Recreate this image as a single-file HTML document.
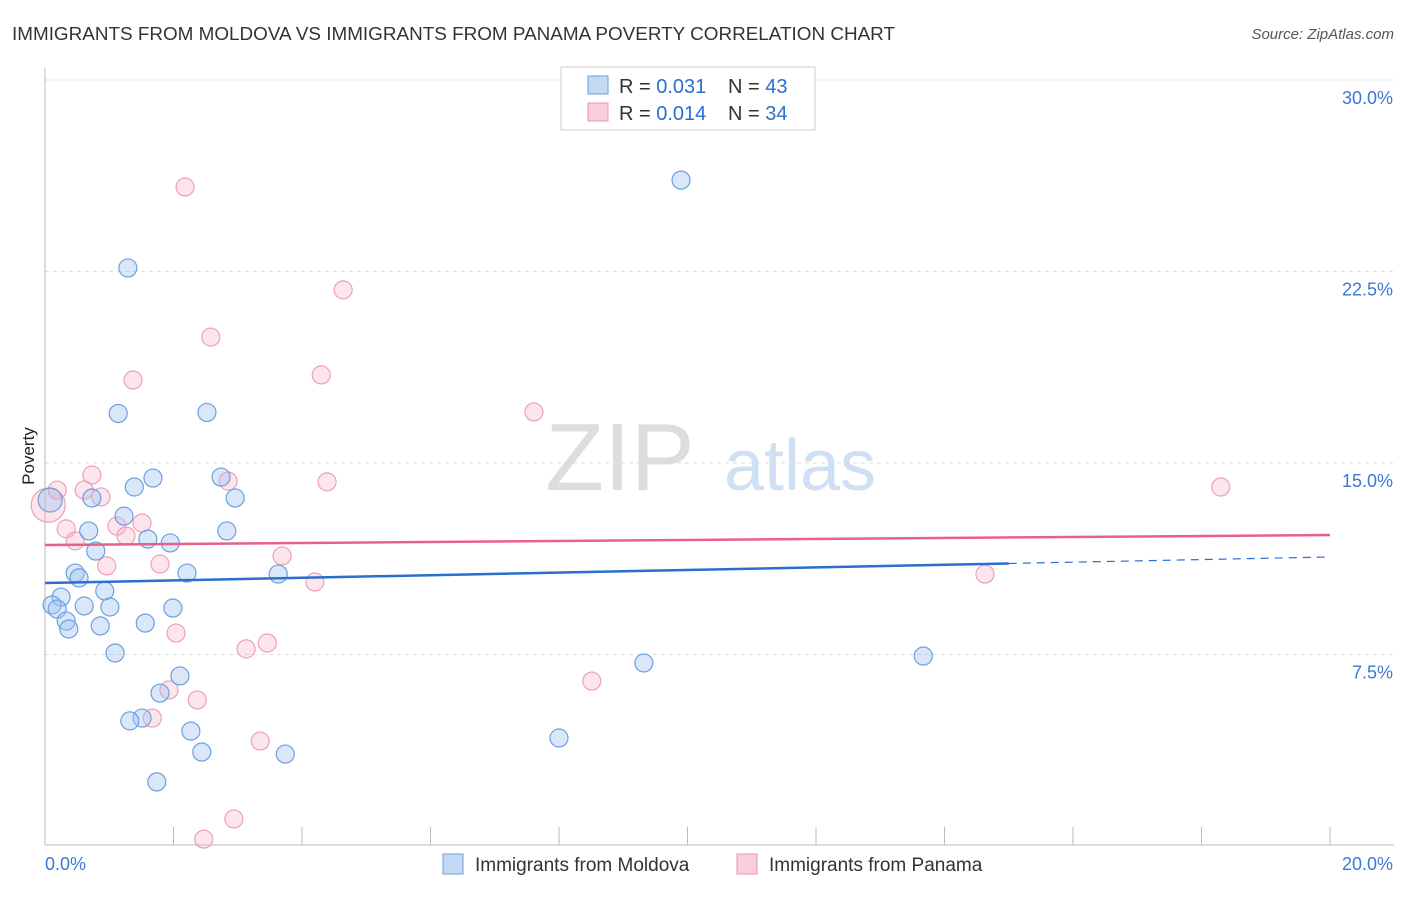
<!DOCTYPE html>
<html><head><meta charset="utf-8"><style>
body{margin:0;background:#fff;font-family:"Liberation Sans",sans-serif;}
svg text{font-family:"Liberation Sans",sans-serif;}
</style></head><body>
<svg id="c" width="1406" height="892">
<text x="12" y="40" font-size="18" fill="#333" textLength="883" lengthAdjust="spacingAndGlyphs">IMMIGRANTS FROM MOLDOVA VS IMMIGRANTS FROM PANAMA POVERTY CORRELATION CHART</text>
<text x="1394" y="39" font-size="15" fill="#555" font-style="italic" text-anchor="end">Source: ZipAtlas.com</text>
<text x="34" y="456" font-size="17" fill="#222" transform="rotate(-90 34 456)" text-anchor="middle">Poverty</text>
<text x="620" y="490" font-size="96" fill="#ddd" font-family="Liberation Serif" text-anchor="middle">ZIP</text>
<text x="800" y="490" font-size="72" fill="#cfe0f3" text-anchor="middle">atlas</text>
<g id="grid"></g><g id="pts"></g><g id="trend"></g>
<g>
<rect x="561" y="67" width="254" height="63" fill="#fff" stroke="#ccc"/>
<rect x="588" y="76" width="20" height="18" fill="#c5d9f3" stroke="#6a9ee0"/>
<text x="619" y="93" font-size="20" fill="#333">R = <tspan fill="#2a6fd0">0.031</tspan></text>
<text x="728" y="93" font-size="20" fill="#333">N = <tspan fill="#2a6fd0">43</tspan></text>
<rect x="588" y="103" width="20" height="18" fill="#f9cfdc" stroke="#ee93ad"/>
<text x="619" y="120" font-size="20" fill="#333">R = <tspan fill="#2a6fd0">0.014</tspan></text>
<text x="728" y="120" font-size="20" fill="#333">N = <tspan fill="#2a6fd0">34</tspan></text>
</g>
<g>
<rect x="443" y="854" width="20" height="20" fill="#c5d9f3" stroke="#6a9ee0"/>
<text x="475" y="871" font-size="19" fill="#333">Immigrants from Moldova</text>
<rect x="737" y="854" width="20" height="20" fill="#f9cfdc" stroke="#ee93ad"/>
<text x="769" y="871" font-size="19" fill="#333">Immigrants from Panama</text>
</g>
</svg>
<script>
const yTicks=[7.5,15,22.5,30];
const yTickLabels=["7.5%","15.0%","22.5%","30.0%"];
const xTicks=[0,2,4,6,8,10,12,14,16,18,20];
const moldovaX=[1.29,9.90,1.14,2.52,1.68,2.74,1.39,0.73,2.96,1.23,0.68,2.83,1.60,1.95,0.79,0.47,0.53,2.21,3.63,0.25,0.93,0.11,0.19,0.61,1.01,1.99,0.33,0.37,0.86,1.56,1.09,9.32,13.67,2.10,1.79,1.51,1.32,2.27,2.44,3.74,8.00,1.74,0.08];
const moldovaY=[22.64,26.08,16.94,16.98,14.41,14.45,14.06,13.63,13.63,12.92,12.34,12.34,12.02,11.87,11.55,10.69,10.50,10.69,10.65,9.75,9.99,9.44,9.28,9.40,9.36,9.32,8.81,8.50,8.62,8.73,7.56,7.17,7.44,6.66,5.99,5.01,4.90,4.50,3.68,3.60,4.23,2.51,13.55];
const panamaX=[2.18,4.64,2.58,1.37,4.30,7.61,18.30,0.73,2.85,4.39,0.61,0.87,0.19,0.33,1.51,0.47,1.12,1.26,0.96,1.79,3.69,4.20,14.63,2.04,3.46,3.13,1.93,2.37,1.67,3.35,8.51,2.94,2.47,0.05];
const panamaY=[25.81,21.78,19.93,18.25,18.45,17.00,14.06,14.53,14.29,14.26,13.94,13.67,13.94,12.42,12.65,11.95,12.53,12.14,10.97,11.04,11.36,10.34,10.65,8.34,7.95,7.72,6.11,5.72,5.01,4.11,6.46,1.06,0.27,13.35];
const moldovaTrend=[10.30,11.32];
const panamaTrend=[11.79,12.18];
const NS="http://www.w3.org/2000/svg";
const X=v=>45+v/20*1285, Y=v=>846-v/7.5*191.5;
function mk(t,a,p){const e=document.createElementNS(NS,t);for(const k in a)e.setAttribute(k,a[k]);p.appendChild(e);return e;}
const g=document.getElementById('grid');
yTicks.forEach((t,i)=>{
 const l=mk('line',{x1:45,x2:1394,y1:Y(t),y2:Y(t),stroke:'#ddd','stroke-dasharray':'4,4'},g);
 
 
 const tx=mk('text',{x:1393,y:Y(t)+24,'font-size':18,fill:'#3a78d4','text-anchor':'end'},g);
 tx.textContent=yTickLabels[i];
 
 
});
const ax=mk('line',{x1:45,x2:1394,y1:845,y2:845,stroke:'#bbb'},g);


const ay=mk('line',{x1:45,x2:45,y1:68,y2:845,stroke:'#bbb'},g);


xTicks.forEach(t=>{if(t===0)return;
 const l=mk('line',{x1:X(t),x2:X(t),y1:827,y2:845,stroke:'#bbb'},g);
 
 
});
const x0=mk('text',{x:45,y:870,'font-size':18,fill:'#3a78d4'},g);x0.textContent='0.0%';


const x1=mk('text',{x:1393,y:870,'font-size':18,fill:'#3a78d4','text-anchor':'end'},g);x1.textContent='20.0%';


const p=document.getElementById('pts');
panamaX.forEach((v,i)=>{
 const r=i===panamaX.length-1?17:9;
 const c=mk('circle',{cx:X(v),cy:Y(panamaY[i]),r:r,fill:'rgba(246,170,195,0.3)',stroke:'#eea0b8','stroke-width':1.2},p);
 
 
});
moldovaX.forEach((v,i)=>{
 const r=i===moldovaX.length-1?12:9;
 const c=mk('circle',{cx:X(v),cy:Y(moldovaY[i]),r:r,fill:'rgba(160,195,240,0.4)',stroke:'#6d9fe0','stroke-width':1.2},p);
 
 
});
const tg=document.getElementById('trend');
const slope=(moldovaTrend[1]-moldovaTrend[0])/20;
const l1=mk('line',{x1:X(0),y1:Y(moldovaTrend[0]),x2:X(15),y2:Y(moldovaTrend[0]+slope*15),stroke:'#2a6fd0','stroke-width':2.5},tg);


const l2=mk('line',{x1:X(15),y1:Y(moldovaTrend[0]+slope*15),x2:X(20),y2:Y(moldovaTrend[1]),stroke:'#2a6fd0','stroke-width':1.2,'stroke-dasharray':'8,6'},tg);


const l3=mk('line',{x1:X(0),y1:Y(panamaTrend[0]),x2:X(20),y2:Y(panamaTrend[1]),stroke:'#e8608a','stroke-width':2.5},tg);


</script>
</body></html>
